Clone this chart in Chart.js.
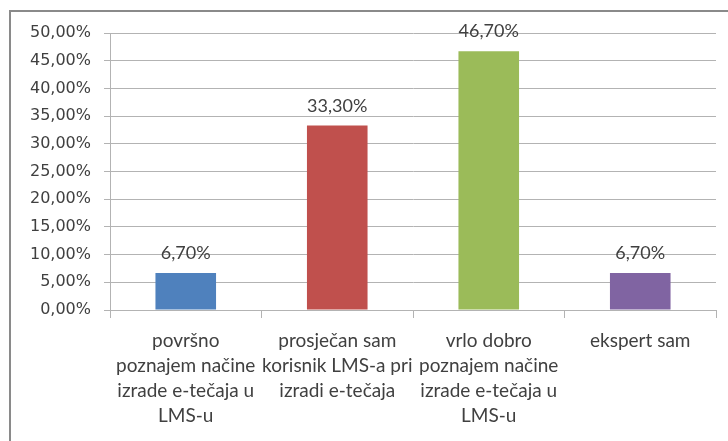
<!DOCTYPE html>
<html>
<head>
<meta charset="utf-8">
<title>LMS e-tečaj</title>
<script src="https://cdn.jsdelivr.net/npm/chart.js@4.4.1/dist/chart.umd.min.js"></script>
<style>
    html, body { margin: 0; padding: 0; background: #fff; }
    #wrap { position: relative; width: 728px; height: 441px; overflow: hidden; }
</style>
</head>
<body>
<div id="wrap"><canvas id="chart"></canvas></div>
<script>
// Kategorije odgovora (višeredni natpisi ispod osi)
const categories = [
    ['površno', 'poznajem načine', 'izrade e-tečaja u', 'LMS-u'],
    ['prosječan sam', 'korisnik LMS-a pri', 'izradi e-tečaja'],
    ['vrlo dobro', 'poznajem načine', 'izrade e-tečaja u', 'LMS-u'],
    ['ekspert sam'],
];
const percents = [6.7, 33.3, 46.7, 6.7];
const barColors = ['#4F81BD', '#C0504D', '#9BBB59', '#8064A2'];
const yTicks = [0, 5, 10, 15, 20, 25, 30, 35, 40, 45, 50];

const TEXT = '#404040';
const GRID = '#b3b3b3';

function formatPercent(value) {
    return `${value.toFixed(2).replace('.', ',')}%`;
}

// Okvir grafikona (gore i lijevo)
const framePlugin = {
    id: 'frame',
    beforeDraw(chart) {
        const { ctx } = chart;
        ctx.save();
        ctx.strokeStyle = '#8a8a8a';
        ctx.lineWidth = 2;
        ctx.beginPath();
        ctx.moveTo(10, chart.height + 2);
        ctx.lineTo(10, 11);
        ctx.lineTo(chart.width + 2, 11);
        ctx.stroke();
        ctx.restore();
    },
};

// Vrijednosti iznad stupaca
const valueLabels = {
    id: 'valueLabels',
    afterDatasetsDraw(chart) {
        const { ctx } = chart;
        const meta = chart.getDatasetMeta(0);
        ctx.save();
        ctx.font = '18px Lato';
        ctx.fillStyle = TEXT;
        ctx.textAlign = 'center';
        ctx.textBaseline = 'alphabetic';
        meta.data.forEach((bar, i) => {
            ctx.fillText(formatPercent(percents[i]), bar.x, bar.y - 14);
        });
        ctx.restore();
    },
};

const ctx = document.getElementById('chart').getContext('2d');
new Chart(ctx, {
    type: 'bar',
    data: {
        labels: categories,
        datasets: [{
            data: percents,
            backgroundColor: barColors,
            borderWidth: 0,
            barPercentage: 0.4,
            categoryPercentage: 1,
        }],
    },
    options: {
        responsive: true,
        maintainAspectRatio: false,
        animation: false,
        layout: {
            padding: { left: 10, top: 33, right: 12, bottom: 0 },
        },
        plugins: {
            legend: { display: false },
            tooltip: { enabled: false },
        },
        scales: {
            x: {
                offset: true,
                grid: {
                    offset: true,
                    drawOnChartArea: false,
                    drawTicks: true,
                    tickLength: 8,
                    color: GRID,
                },
                border: { display: true, color: GRID, width: 1 },
                ticks: {
                    color: TEXT,
                    font: { family: 'Lato', size: 19, lineHeight: 1.32 },
                    padding: 10,
                    maxRotation: 0,
                    autoSkip: false,
                },
                afterFit(scale) {
                    scale.height = 131;
                },
            },
            y: {
                min: 0,
                max: 50,
                afterBuildTicks(scale) {
                    scale.ticks = yTicks.map((v) => ({ value: v }));
                },
                grid: {
                    color: GRID,
                    tickLength: 6,
                },
                border: { display: true, color: GRID, width: 1 },
                ticks: {
                    color: TEXT,
                    font: { family: 'DejaVu Sans', size: 16 },
                    padding: 13,
                    callback: (value) => formatPercent(value),
                },
                afterFit(scale) {
                    scale.width = 100;
                },
            },
        },
    },
    plugins: [framePlugin, valueLabels],
});
</script>
</body>
</html>
